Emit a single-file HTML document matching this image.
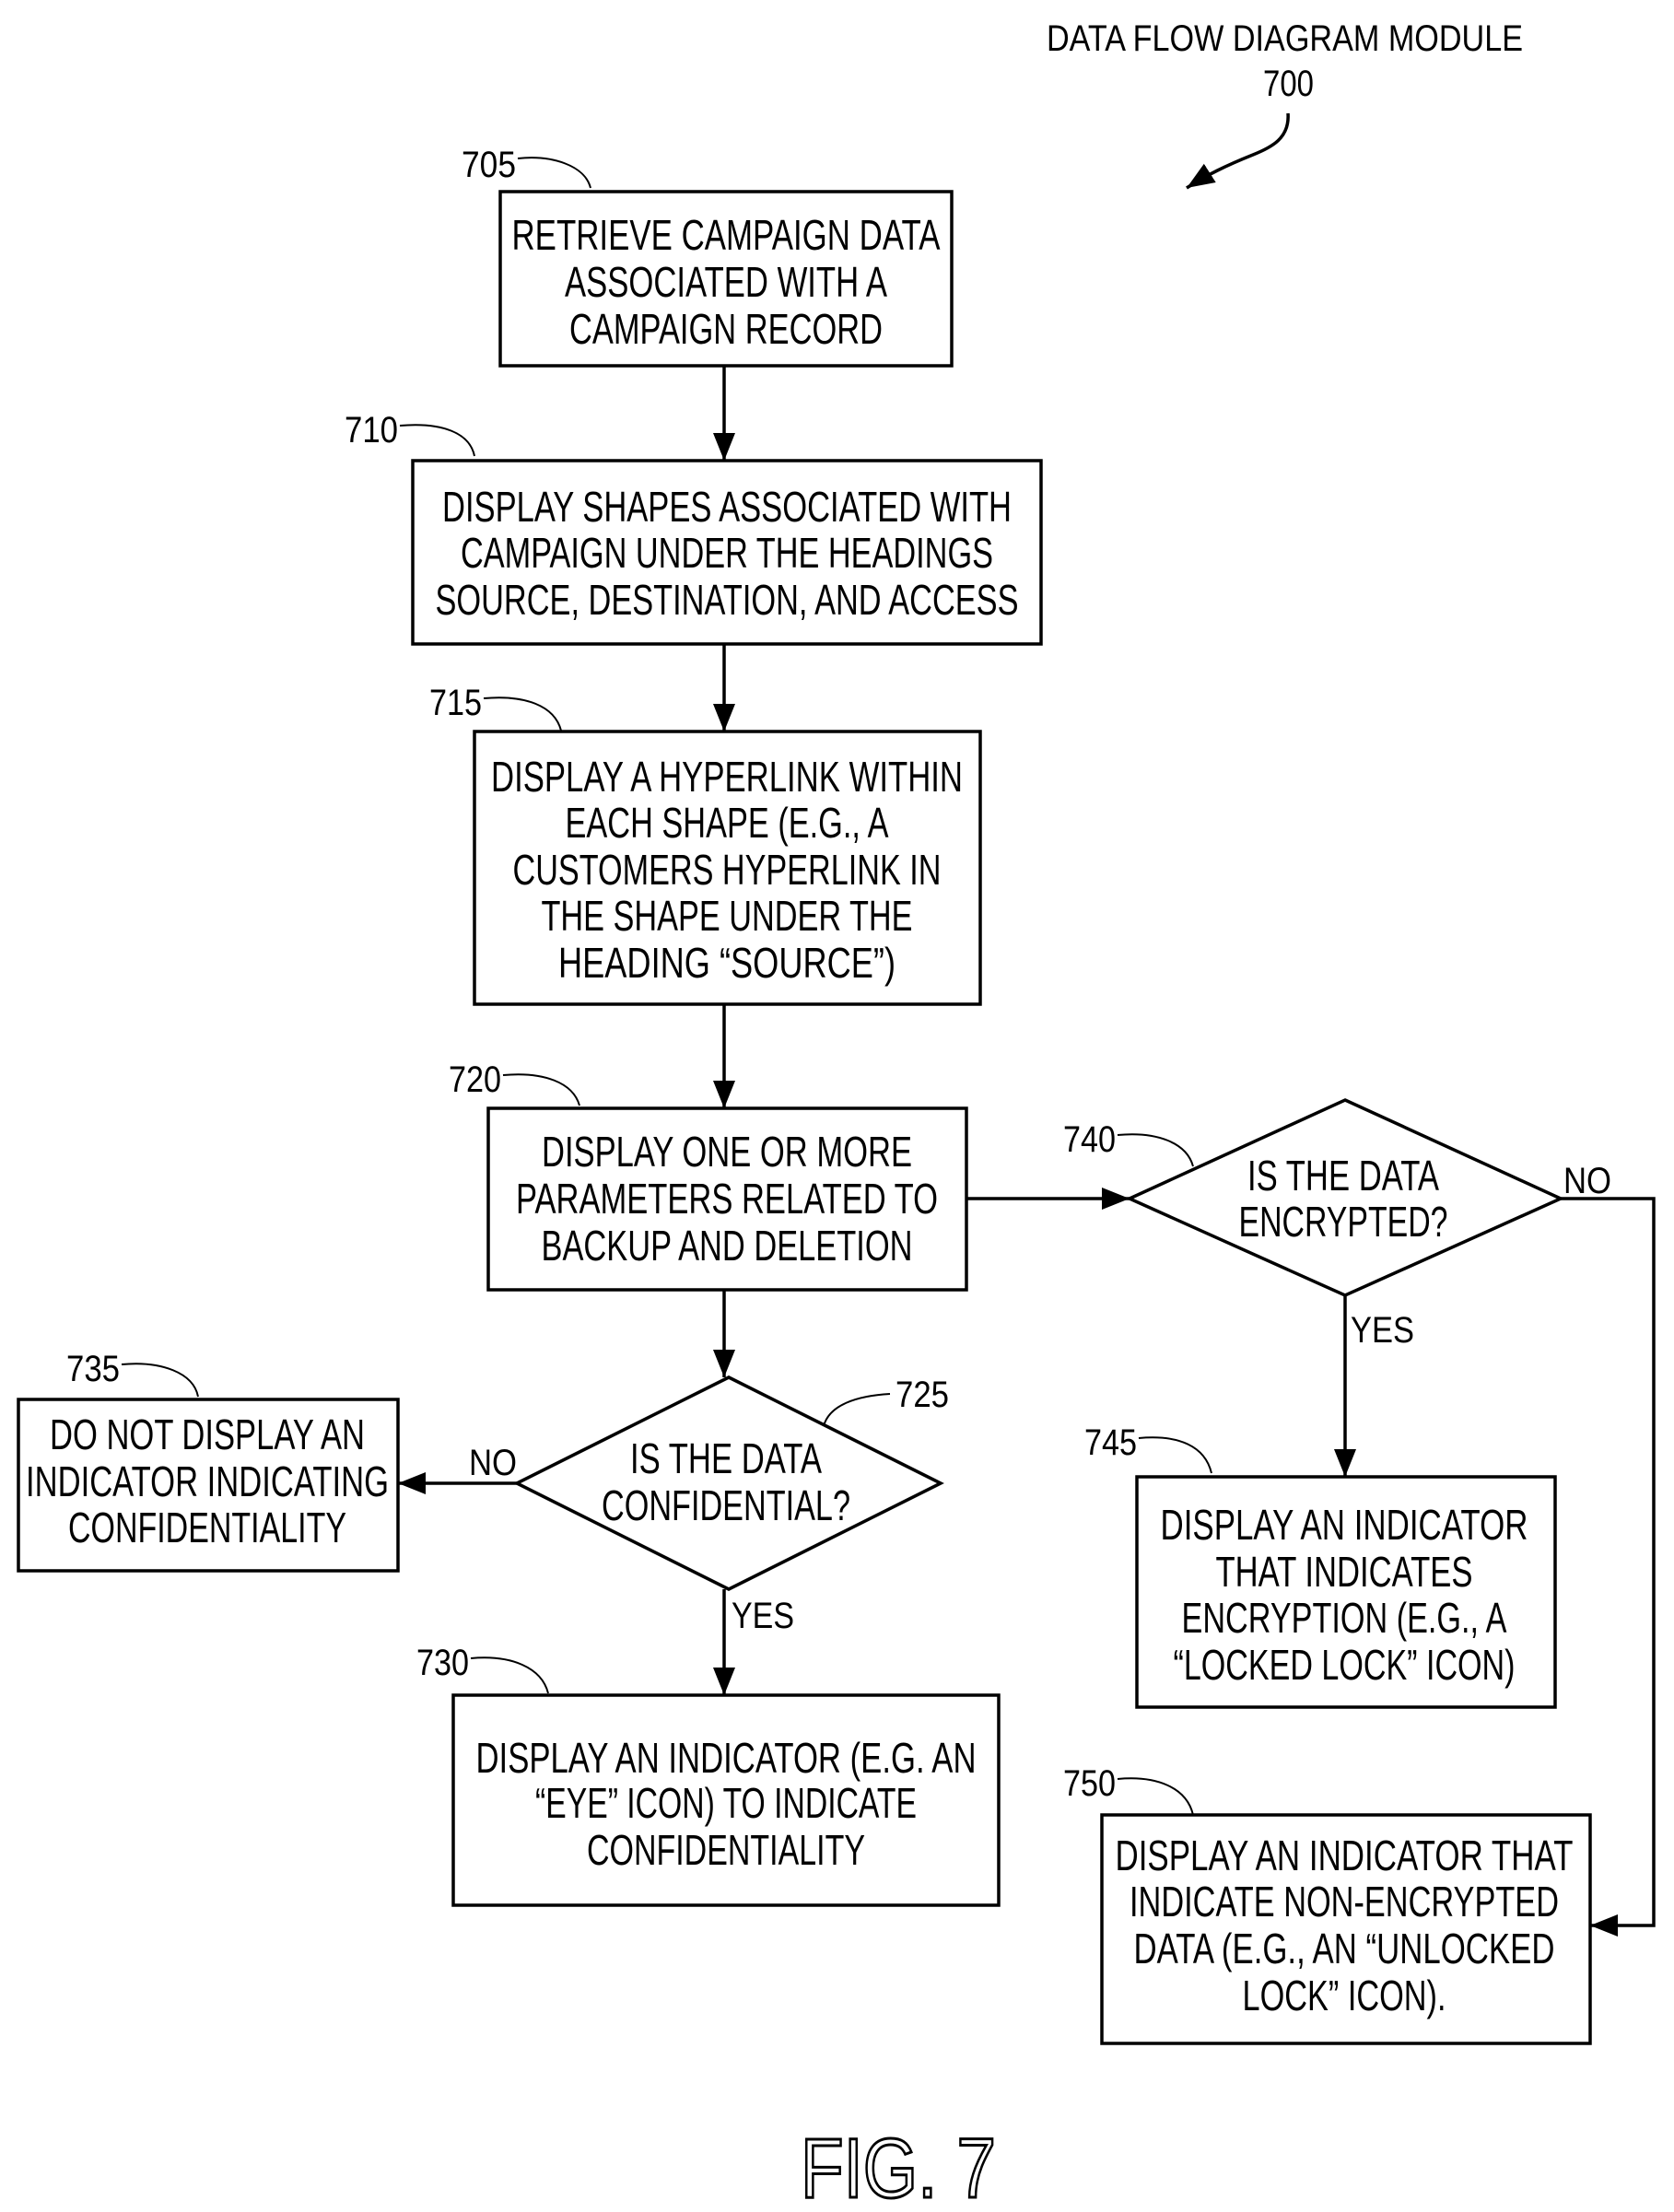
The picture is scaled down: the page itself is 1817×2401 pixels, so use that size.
<!DOCTYPE html>
<html><head><meta charset="utf-8"><style>html,body{margin:0;padding:0;background:#fff}svg{display:block}</style></head>
<body>
<svg width="1817" height="2401" viewBox="0 0 1817 2401" xmlns="http://www.w3.org/2000/svg" font-family="'Liberation Sans Narrow','Liberation Sans',sans-serif" fill="#000">
<defs><marker id="a" viewBox="0 0 10 10" refX="10" refY="5" markerWidth="11" markerHeight="11" markerUnits="userSpaceOnUse" orient="auto"><path d="M0,0 L10,5 L0,10 z"/></marker>
<marker id="b" viewBox="0 0 10 10" refX="10" refY="5" markerWidth="30" markerHeight="30" markerUnits="userSpaceOnUse" orient="auto"><path d="M0,1 L10,5 L0,9 z"/></marker></defs>
<g fill="none" stroke="#000" stroke-width="3.5">
<rect x="543" y="208" width="490" height="189"/>
<rect x="448" y="500" width="682" height="199"/>
<rect x="515" y="794" width="549" height="296"/>
<rect x="530" y="1203" width="519" height="197"/>
<rect x="20" y="1519" width="412" height="186"/>
<rect x="492" y="1840" width="592" height="228"/>
<rect x="1234" y="1603" width="454" height="250"/>
<rect x="1196" y="1970" width="530" height="248"/>
<polygon points="791,1495 1021,1610 791,1725 561,1610"/>
<polygon points="1460,1194 1694,1301 1460,1406 1226,1301"/>
<g marker-end="url(#b)">
<line x1="786" y1="397" x2="786" y2="500"/>
<line x1="786" y1="699" x2="786" y2="794"/>
<line x1="786" y1="1090" x2="786" y2="1203"/>
<line x1="786" y1="1400" x2="786" y2="1495"/>
<line x1="786" y1="1725" x2="786" y2="1840"/>
<line x1="561" y1="1610" x2="432" y2="1610"/>
<line x1="1049" y1="1301" x2="1226" y2="1301"/>
<line x1="1460" y1="1406" x2="1460" y2="1603"/>
<polyline points="1694,1301 1795,1301 1795,2090 1726,2090"/>
<path d="M1398,123 C1400,150 1380,160 1360,168 C1330,180 1310,190 1288,204"/>
</g>
</g>
<g fill="none" stroke="#000" stroke-width="2">
<path d="M562,172 C600,168 635,180 641,204"/>
<path d="M434,462 C480,458 510,470 515,495"/>
<path d="M525,758 C570,754 602,766 609,793"/>
<path d="M546,1167 C590,1163 622,1175 629,1200"/>
<path d="M1213,1232 C1255,1228 1288,1240 1295,1266"/>
<path d="M966,1513 C930,1515 900,1525 894,1548"/>
<path d="M132,1481 C175,1477 210,1490 215,1516"/>
<path d="M1236,1561 C1280,1557 1308,1570 1315,1599"/>
<path d="M511,1800 C555,1796 588,1810 595,1838"/>
<path d="M1213,1931 C1255,1927 1288,1940 1295,1970"/>
</g>
<g font-size="46" text-anchor="middle" lengthAdjust="spacingAndGlyphs">
<text x="788" y="271" textLength="465" lengthAdjust="spacingAndGlyphs">RETRIEVE CAMPAIGN DATA</text>
<text x="788" y="322" textLength="350" lengthAdjust="spacingAndGlyphs">ASSOCIATED WITH A</text>
<text x="788" y="373" textLength="340" lengthAdjust="spacingAndGlyphs">CAMPAIGN RECORD</text>
<text x="789" y="566" textLength="618" lengthAdjust="spacingAndGlyphs">DISPLAY SHAPES ASSOCIATED WITH</text>
<text x="789" y="616" textLength="578" lengthAdjust="spacingAndGlyphs">CAMPAIGN UNDER THE HEADINGS</text>
<text x="789" y="667" textLength="633" lengthAdjust="spacingAndGlyphs">SOURCE, DESTINATION, AND ACCESS</text>
<text x="789" y="859" textLength="512" lengthAdjust="spacingAndGlyphs">DISPLAY A HYPERLINK WITHIN</text>
<text x="789" y="909" textLength="351" lengthAdjust="spacingAndGlyphs">EACH SHAPE (E.G., A</text>
<text x="789" y="960" textLength="465" lengthAdjust="spacingAndGlyphs">CUSTOMERS HYPERLINK IN</text>
<text x="789" y="1010" textLength="403" lengthAdjust="spacingAndGlyphs">THE SHAPE UNDER THE</text>
<text x="789" y="1061" textLength="366" lengthAdjust="spacingAndGlyphs">HEADING “SOURCE”)</text>
<text x="789" y="1266" textLength="402" lengthAdjust="spacingAndGlyphs">DISPLAY ONE OR MORE</text>
<text x="789" y="1317" textLength="458" lengthAdjust="spacingAndGlyphs">PARAMETERS RELATED TO</text>
<text x="789" y="1368" textLength="403" lengthAdjust="spacingAndGlyphs">BACKUP AND DELETION</text>
<text x="788" y="1599" textLength="208" lengthAdjust="spacingAndGlyphs">IS THE DATA</text>
<text x="788" y="1650" textLength="270" lengthAdjust="spacingAndGlyphs">CONFIDENTIAL?</text>
<text x="225" y="1573" textLength="342" lengthAdjust="spacingAndGlyphs">DO NOT DISPLAY AN</text>
<text x="225" y="1624" textLength="394" lengthAdjust="spacingAndGlyphs">INDICATOR INDICATING</text>
<text x="225" y="1674" textLength="302" lengthAdjust="spacingAndGlyphs">CONFIDENTIALITY</text>
<text x="788" y="1924" textLength="543" lengthAdjust="spacingAndGlyphs">DISPLAY AN INDICATOR (E.G. AN</text>
<text x="788" y="1973" textLength="414" lengthAdjust="spacingAndGlyphs">“EYE” ICON) TO INDICATE</text>
<text x="788" y="2024" textLength="302" lengthAdjust="spacingAndGlyphs">CONFIDENTIALITY</text>
<text x="1458" y="1292" textLength="208" lengthAdjust="spacingAndGlyphs">IS THE DATA</text>
<text x="1458" y="1342" textLength="227" lengthAdjust="spacingAndGlyphs">ENCRYPTED?</text>
<text x="1459" y="1671" textLength="399" lengthAdjust="spacingAndGlyphs">DISPLAY AN INDICATOR</text>
<text x="1459" y="1722" textLength="279" lengthAdjust="spacingAndGlyphs">THAT INDICATES</text>
<text x="1459" y="1772" textLength="353" lengthAdjust="spacingAndGlyphs">ENCRYPTION (E.G., A</text>
<text x="1459" y="1823" textLength="371" lengthAdjust="spacingAndGlyphs">“LOCKED LOCK” ICON)</text>
<text x="1459" y="2030" textLength="497" lengthAdjust="spacingAndGlyphs">DISPLAY AN INDICATOR THAT</text>
<text x="1459" y="2080" textLength="466" lengthAdjust="spacingAndGlyphs">INDICATE NON-ENCRYPTED</text>
<text x="1459" y="2131" textLength="457" lengthAdjust="spacingAndGlyphs">DATA (E.G., AN “UNLOCKED</text>
<text x="1459" y="2182" textLength="221" lengthAdjust="spacingAndGlyphs">LOCK” ICON).</text>
</g>
<g font-size="40">
<text x="1136" y="55" textLength="517" lengthAdjust="spacingAndGlyphs">DATA FLOW DIAGRAM MODULE</text>
<text x="1371" y="104" textLength="55" lengthAdjust="spacingAndGlyphs">700</text>
<text x="501" y="192" textLength="59" lengthAdjust="spacingAndGlyphs">705</text>
<text x="374" y="480" textLength="58" lengthAdjust="spacingAndGlyphs">710</text>
<text x="466" y="776" textLength="57" lengthAdjust="spacingAndGlyphs">715</text>
<text x="487" y="1185" textLength="57" lengthAdjust="spacingAndGlyphs">720</text>
<text x="1154" y="1250" textLength="57" lengthAdjust="spacingAndGlyphs">740</text>
<text x="972" y="1527" textLength="58" lengthAdjust="spacingAndGlyphs">725</text>
<text x="72" y="1499" textLength="58" lengthAdjust="spacingAndGlyphs">735</text>
<text x="1177" y="1579" textLength="57" lengthAdjust="spacingAndGlyphs">745</text>
<text x="452" y="1818" textLength="57" lengthAdjust="spacingAndGlyphs">730</text>
<text x="1154" y="1949" textLength="57" lengthAdjust="spacingAndGlyphs">750</text>
<text x="509" y="1601" textLength="52" lengthAdjust="spacingAndGlyphs">NO</text>
<text x="794" y="1767" textLength="68" lengthAdjust="spacingAndGlyphs">YES</text>
<text x="1697" y="1295" textLength="52" lengthAdjust="spacingAndGlyphs">NO</text>
<text x="1466" y="1457" textLength="69" lengthAdjust="spacingAndGlyphs">YES</text>
</g>
<text x="869" y="2385" font-size="92" textLength="212" lengthAdjust="spacingAndGlyphs" fill="#fff" stroke="#000" stroke-width="3">FIG. 7</text>
</svg>
</body></html>
